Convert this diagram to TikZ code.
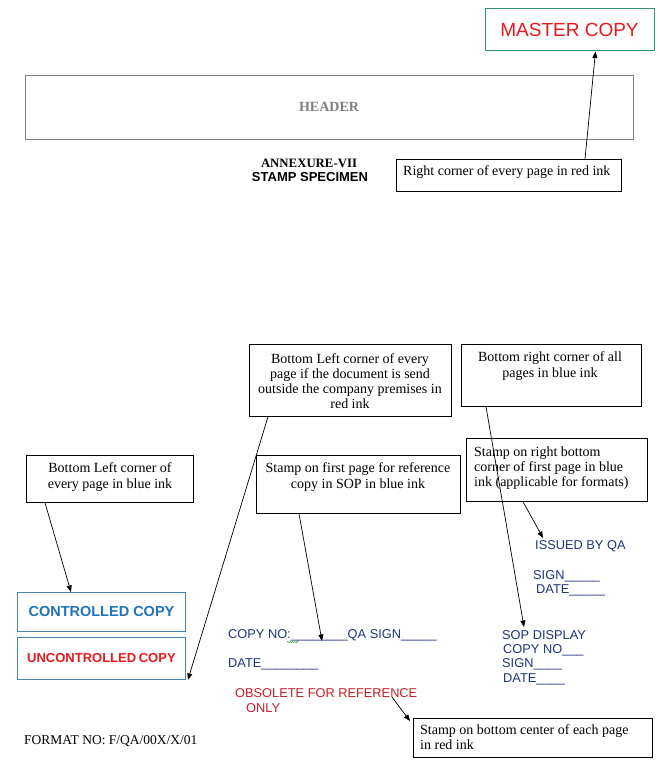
\documentclass[tikz,border=0pt]{standalone}
\usepackage{fontspec}
\setmainfont{Liberation Serif}
\setsansfont{Liberation Sans}
\usetikzlibrary{arrows.meta,decorations.pathmorphing}
\definecolor{navy}{RGB}{32,52,125}
\definecolor{mred}{RGB}{230,25,30}
\definecolor{mgreen}{RGB}{46,150,105}
\definecolor{cblue}{RGB}{35,115,185}
\definecolor{cframe}{RGB}{70,130,180}
\definecolor{ored}{RGB}{200,32,40}
\definecolor{hgray}{RGB}{128,128,128}
\begin{document}
\begin{tikzpicture}[x=1pt,y=-1pt,
  box/.style={draw=black, line width=0.75pt, inner sep=0pt, anchor=north west},
  btxt/.style={inner sep=0pt, font=\fontsize{14}{15.2}\selectfont},
  ntxt/.style={inner sep=0pt, anchor=west, text=navy, font=\sffamily\fontsize{12.8}{15}\selectfont},
  arr/.style={-{Triangle[length=6.5pt,width=5pt]}, line width=0.7pt}]
\useasboundingbox (0,0) rectangle (660,770);
\fill[white] (0,0) rectangle (660,770);

% master copy
\node[draw=mgreen, line width=1pt, minimum width=169pt, minimum height=42pt, inner sep=0pt,
  text=mred, font=\sffamily\fontsize{19}{22}\selectfont] (master) at (569.5,30) {MASTER COPY};

% header
\node[draw=hgray, line width=0.8pt, minimum width=608pt, minimum height=64pt, inner sep=0pt,
  text=hgray, font=\bfseries\fontsize{14}{16}\selectfont] (header) at (329,107) {HEADER};

\node[inner sep=0pt, font=\bfseries\fontsize{12.8}{14}\selectfont] (annex) at (309,163) {ANNEXURE-VII};
\node[inner sep=0pt, font=\sffamily\bfseries\fontsize{13}{14}\selectfont] (spec) at (310,177) {STAMP SPECIMEN};

% right corner box
\node[box, minimum width=225pt, minimum height=32pt] (b1) at (396,159) {};
\node[btxt, anchor=west] (t1) at (403,172) {Right corner of every page in red ink};
\draw[arr] ([xshift=189pt]b1.north west) -- ([xshift=111pt]master.south west);

% bottom left red box
\node[box, minimum width=202pt, minimum height=72pt] (b2) at (249,344) {};
\node[btxt, align=center] (t2) at (350,381) {Bottom Left corner of every\\page if the document is send\\outside the company premises in\\red ink};

% bottom right all pages
\node[box, minimum width=180pt, minimum height=62pt] (b3) at (461,344) {};
\node[btxt, align=center] (t3) at (550,366) {Bottom right corner of all\\pages in blue ink};

% stamp on right bottom
\node[box, minimum width=181pt, minimum height=63pt] (b4) at (466,438) {};
\node[btxt, align=left, anchor=west] (t4) at (474,468) {Stamp on right bottom\\corner of first page in blue\\ink (applicable for formats)};

% stamp on first page
\node[box, minimum width=204pt, minimum height=58pt] (b5) at (256,455) {};
\node[btxt, align=center] (t5) at (358,477) {Stamp on first page for reference\\copy in SOP in blue ink};

% bottom left blue box
\node[box, minimum width=167pt, minimum height=47pt] (b6) at (26,455) {};
\node[btxt, align=center] (t6) at (110,477) {Bottom Left corner of\\every page in blue ink};

% controlled / uncontrolled
\node[draw=cframe, line width=0.9pt, minimum width=168pt, minimum height=39pt, inner sep=0pt, anchor=north west,
  text=cblue, font=\sffamily\bfseries\fontsize{14.5}{16}\selectfont] (ctrl) at (17,592) {CONTROLLED COPY};
\node[draw=cframe, line width=0.9pt, minimum width=168pt, minimum height=42pt, inner sep=0pt, anchor=north west,
  text=mred, font=\sffamily\bfseries\fontsize{13}{15}\selectfont] (unctrl) at (17,637) {UNCONTROLLED\kern-1pt\ COPY};

% stamp texts
\node[ntxt] (copyno) at (228,635) {COPY NO:\_\_\_\_\_\_\_\_QA SIGN\_\_\_\_\_};
\draw[green!55!black, line width=0.4pt, decorate, decoration={snake, amplitude=0.6pt, segment length=2.4pt}] (287,642) -- (299,642);
\node[ntxt] (date1) at (228,664) {DATE\_\_\_\_\_\_\_\_};
\node[ntxt, text=ored, align=left] (obs) at (235,701) {OBSOLETE FOR REFERENCE\\\hspace*{11pt}ONLY};

\node[ntxt] (issued) at (535,546) {ISSUED BY QA};
\node[ntxt] (sign1) at (533,576) {SIGN\_\_\_\_\_};
\node[ntxt] (date2) at (536,590) {DATE\_\_\_\_\_};

\node[ntxt] (sop) at (502,635) {SOP DISPLAY};
\node[ntxt] (copy2) at (503,650) {COPY NO\_\_\_};
\node[ntxt] (sign2) at (502,664) {SIGN\_\_\_\_};
\node[ntxt] (date3) at (503,679) {DATE\_\_\_\_};

% bottom center box
\node[box, minimum width=239pt, minimum height=39pt] (b7) at (413,718) {};
\node[btxt, align=left, anchor=west] (t7) at (420,737) {Stamp on bottom center of each page\\in red ink};

\node[inner sep=0pt, anchor=west, font=\fontsize{13.5}{15}\selectfont] (fmt) at (24,741) {FORMAT NO: F/QA/00X/X/01};

% connectors
\coordinate (tipcopy) at (322,641);
\coordinate (tipsop) at (524,627);
\coordinate (tipiss) at (543,538);
\coordinate (obsfrom) at (392,697);
\draw[arr] ([xshift=19pt]b6.south west) -- ([xshift=54pt]ctrl.north west);
\draw[arr] ([xshift=19pt]b2.south west) -- ([xshift=2pt]unctrl.south east);
\draw[arr] ([xshift=43pt]b5.south west) -- (tipcopy);
\draw[arr] ([xshift=25pt]b3.south west) -- (tipsop);
\draw[arr] ([xshift=57pt]b4.south west) -- (tipiss);
\draw[arr] (obsfrom) -- ([xshift=-3pt,yshift=-3pt]b7.north west);
\end{tikzpicture}
\end{document}
